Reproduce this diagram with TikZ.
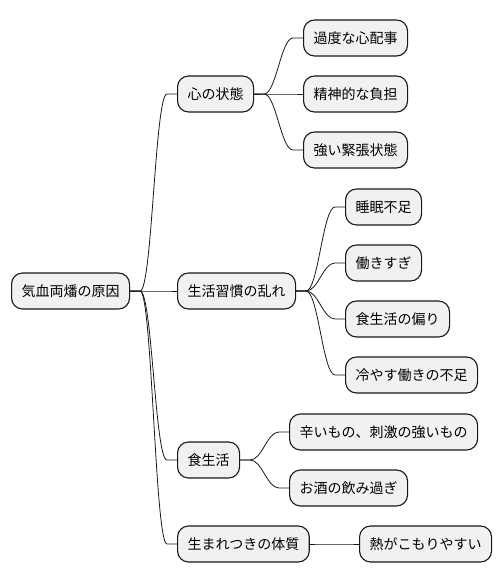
\documentclass[tikz,border=0pt]{standalone}
\usepackage{fontspec}
\setmainfont{Noto Sans CJK JP}
\definecolor{nodefill}{HTML}{F1F1F1}
\definecolor{nodeline}{HTML}{181818}
\usepackage{tikz}
\usetikzlibrary{calc, positioning}

\newcommand\branch[2]{\draw[link] (#1.east) -- ++(10,0) .. controls +(12,0) and +(-12,0) .. ($(#2.west)+(-10,0)$) -- (#2.west);}

\begin{document}
\begin{tikzpicture}[x=1pt, y=-1pt,
  topic/.style={draw=nodeline, fill=nodefill, line width=1.1pt, rounded corners=11pt,
    minimum height=36pt, inner xsep=10pt, anchor=west, font=\fontsize{14pt}{16pt}\selectfont},
  link/.style={draw=nodeline, line width=0.8pt}]
  \useasboundingbox (0,0) rectangle (502,583);

  % root
  \node[topic] (root) at (11, 291) {気血両燔の原因};

  % first level
  \node[topic] (kokoro) at (177, 94) {心の状態};
  \node[topic] (seikatsu) at (177, 291) {生活習慣の乱れ};
  \node[topic] (shoku) at (177, 460) {食生活};
  \node[topic] (taishitsu) at (177, 544) {生まれつきの体質};

  % 心の状態
  \node[topic] (shinpai) at (303, 38) {過度な心配事};
  \node[topic] (futan) at (303, 94) {精神的な負担};
  \node[topic] (kinchou) at (303, 150) {強い緊張状態};

  % 生活習慣の乱れ
  \node[topic] (suimin) at (345, 207) {睡眠不足};
  \node[topic] (hataraki) at (345, 263) {働きすぎ};
  \node[topic] (katayori) at (345, 319) {食生活の偏り};
  \node[topic] (hiyasu) at (345, 375) {冷やす働きの不足};

  % 食生活
  \node[topic] (karai) at (289, 432) {辛いもの、刺激の強いもの};
  \node[topic] (osake) at (289, 488) {お酒の飲み過ぎ};

  % 生まれつきの体質
  \node[topic] (netsu) at (359, 544) {熱がこもりやすい};

  \branch{root}{kokoro}
  \branch{root}{seikatsu}
  \branch{root}{shoku}
  \branch{root}{taishitsu}
  \branch{kokoro}{shinpai}
  \branch{kokoro}{futan}
  \branch{kokoro}{kinchou}
  \branch{seikatsu}{suimin}
  \branch{seikatsu}{hataraki}
  \branch{seikatsu}{katayori}
  \branch{seikatsu}{hiyasu}
  \branch{shoku}{karai}
  \branch{shoku}{osake}
  \branch{taishitsu}{netsu}
\end{tikzpicture}
\end{document}
